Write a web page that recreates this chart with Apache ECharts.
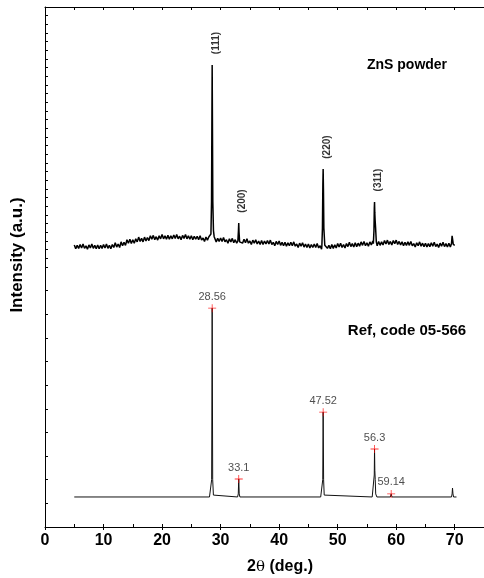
<!DOCTYPE html>
<html>
<head>
<meta charset="utf-8">
<script src="https://cdn.jsdelivr.net/npm/echarts@6/dist/echarts.min.js"></script>
<style>
html,body{margin:0;padding:0;background:#fff;}
#c{width:484px;height:578px;}
</style>
</head>
<body>
<div id="c"></div>
<script>
// ---------- DATA ----------
// x-axis tick labels
const xTicks = [0, 10, 20, 30, 40, 50, 60, 70];

// ZnS powder pattern (upper trace): noisy background sampled every 0.25 deg from 5 deg
const znsStart = 5, znsStep = 0.25;
const znsBackground = [
  25.5, 21, 25, 21.5,   26, 22, 26.5, 21.5,   24.5, 20.5, 25.5, 22,   26.5, 21.5, 25, 21,
  25.5, 21, 25, 21.5,   26, 22, 26.5, 21.5,   25, 21, 26, 22.5,       28, 23, 26.5, 22.5,
  29, 24.5, 28.5, 25,   31.5, 27.5, 32, 27,   31.5, 27.5, 32.5, 29,   34.5, 29.5, 33, 29,
  34.5, 30, 34, 30.5,   36, 32, 36.5, 31.5,   35, 31, 36, 32.5,       37.5, 32.5, 36, 32,
  36.5, 32, 36, 32.5,   37, 33, 37.5, 32.5,   35.5, 31.5, 36.5, 33,   37.5, 32.5, 36, 32,
  36, 31.5, 35.5, 32,   35.5, 31.5, 36, 31,   33.5, 29.5, 34.5, 31,   35, 30, 33.5, 29.5,
  33.5, 29, 33, 29.5,   33.5, 29.5, 34, 29,   31.5, 27.5, 32.5, 29,   33, 28, 31.5, 27.5,
  31.5, 27, 31, 27.5,   32, 28, 32.5, 27.5,   30, 26, 31, 27.5,       31.5, 26.5, 30, 26,
  30.5, 26, 30, 26.5,   30.5, 26.5, 31, 26,   28.5, 24.5, 29.5, 26,   30, 25, 28.5, 24.5,
  28.5, 24, 28, 24.5,   28.5, 24.5, 29, 24,   26.5, 22.5, 27.5, 24,   28, 23, 26.5, 22.5,
  26.5, 22, 26, 22.5,   26.5, 22.5, 27, 22,   24.5, 20.5, 25.5, 22,   26.5, 21.5, 25, 21,
  26, 21.5, 25.5, 22,   27, 23, 27.5, 22.5,   26, 22, 27, 23.5,       28.5, 23.5, 27, 23,
  28, 23.5, 27.5, 24,   29, 25, 29.5, 24.5,   28, 24, 29, 25.5,       30, 25, 28.5, 24.5,
  29.5, 25, 29, 25.5,   30.5, 26.5, 31, 26,   29.5, 25.5, 30.5, 27,   31, 26, 29.5, 25.5,
  29, 24.5, 28.5, 25,   29, 25, 29.5, 24.5,   27, 23, 28, 24.5,       29, 24, 27.5, 23.5,
  27.5, 23, 27, 23.5,   28, 24, 28.5, 23.5,   26.5, 22.5, 27.5, 24,   28.5, 23.5, 27, 23,
  27.5, 23, 27, 23.5,   25
];
// ZnS diffraction peaks, [2theta, intensity] profile points
const znsPeak111 = [[28.2,34],[28.35,38],[28.45,75],[28.52,180],[28.56,233],[28.6,175],[28.67,75],[28.78,42],[28.9,35]];
const znsPeak200 = [[32.95,30],[33.05,42],[33.1,50.8],[33.15,40],[33.25,29]];
const znsPeak220 = [[47.3,24],[47.4,45],[47.47,95],[47.52,113],[47.57,90],[47.64,45],[47.8,25]];
const znsPeak311 = [[56.1,27],[56.2,42],[56.26,68],[56.3,75],[56.34,63],[56.4,54],[56.48,45],[56.6,29]];
const znsPeakEnd = [[69.45,27],[69.55,36],[69.62,38],[69.68,30],[69.75,26]];
// hkl annotations (at peak tops)
const hklLabels = ['(111)', '(200)', '(220)', '(311)'];
const hklPeaks = [[28.56,233],[33.1,50.8],[47.52,113],[56.3,75]];

// Reference pattern (lower trace), code 05-566
const refLine = [
  [5,12.7],[28.1,12.7],[28.35,13.5],[28.47,20],[28.56,92.6],[28.65,20],[28.77,13.5],[29.0,12.7],
  [32.9,12.7],[33.02,14],[33.1,20.3],[33.18,14],[33.3,12.7],
  [47.1,12.7],[47.35,13.5],[47.45,20],[47.52,48.6],[47.6,20],[47.7,13.5],[47.95,12.7],
  [55.9,12.7],[56.15,13.5],[56.25,22],[56.3,33],[56.35,24],[56.42,20],[56.5,14],[56.7,12.7],
  [59.0,12.7],[59.14,14],[59.28,12.7],
  [69.45,12.7],[69.55,14],[69.62,16.5],[69.7,14],[69.8,12.7],[70.3,12.7]
];
const refPeaks = [[28.56,92.6],[33.1,20.3],[47.52,48.6],[56.3,33],[59.14,14]];
const refLabels = ['28.56', '33.1', '47.52', '56.3', '59.14'];

// ---------- BUILD ----------
const peakClusters = [znsPeak111, znsPeak200, znsPeak220, znsPeak311, znsPeakEnd];
let zns = [];
znsBackground.forEach((v, i) => {
  const x = znsStart + i * znsStep;
  const inPeak = peakClusters.some(p => x >= p[0][0] && x <= p[p.length - 1][0]);
  if (!inPeak) zns.push([x, v]);
});
peakClusters.forEach(p => { zns = zns.concat(p); });
zns.sort((a, b) => a[0] - b[0]);

const FONT = 'Liberation Sans, Arial, Helvetica, sans-serif';
const plusPath = 'path://M4.5,0H5.5V4.5H10V5.5H5.5V10H4.5V5.5H0V4.5H4.5Z';

const chart = echarts.init(document.getElementById('c'), null, {renderer: 'canvas'});
const axisLine = {show: true, onZero: false, lineStyle: {color: '#000', width: 1}};

chart.setOption({
  animation: false,
  backgroundColor: '#fff',
  textStyle: {fontFamily: FONT},
  grid: [
    {left: 45, right: -2, top: 7, height: 260},
    {left: 45, right: -2, top: 267, height: 260}
  ],
  xAxis: [
    { // top grid: top frame line with inward ticks
      gridIndex: 0, type: 'value', min: 0, max: 75, interval: 5, position: 'top',
      axisLine: axisLine, axisTick: {show: true, inside: true, length: 3, lineStyle: {color: '#000'}},
      axisLabel: {show: false}, splitLine: {show: false}
    },
    { // bottom grid: main x axis with labels
      gridIndex: 1, type: 'value', min: 0, max: 75, interval: 10, position: 'bottom',
      axisLine: axisLine,
      axisTick: {show: true, inside: false, length: 3, lineStyle: {color: '#000'}},
      axisLabel: {
        show: true, fontSize: 16, fontWeight: 'bold', color: '#000', margin: 6,
        showMaxLabel: false,
        formatter: v => (xTicks.indexOf(v) >= 0 ? String(v) : '')
      },
      splitLine: {show: false}
    },
    { // bottom grid: inward minor ticks every 5
      gridIndex: 1, type: 'value', min: 0, max: 75, interval: 5, position: 'bottom',
      axisLine: {show: false, onZero: false},
      axisTick: {show: true, inside: true, length: 3, lineStyle: {color: '#000'}},
      axisLabel: {show: false}, splitLine: {show: false}
    }
  ],
  yAxis: [
    {
      gridIndex: 0, type: 'value', min: 0, max: 300, interval: 10,
      axisLine: axisLine, axisTick: {show: true, inside: true, length: 3, lineStyle: {color: '#000'}},
      axisLabel: {show: false}, splitLine: {show: false}
    },
    {
      gridIndex: 1, type: 'value', min: 0, max: 110, interval: 10,
      axisLine: axisLine, axisTick: {show: true, inside: true, length: 3, lineStyle: {color: '#000'}},
      axisLabel: {show: false}, splitLine: {show: false}
    }
  ],
  series: [
    {
      type: 'line', xAxisIndex: 0, yAxisIndex: 0, data: zns, showSymbol: false, symbol: 'none',
      lineStyle: {color: '#000', width: 1.5}, z: 3
    },
    {
      type: 'scatter', xAxisIndex: 0, yAxisIndex: 0, data: hklPeaks,
      symbol: 'circle', symbolSize: 1, itemStyle: {color: 'rgba(0,0,0,0)'},
      label: {
        show: true, position: 'inside', rotate: 90, offset: [22, 4],
        fontSize: 10, fontWeight: 'bold', color: '#000', fontFamily: FONT,
        formatter: p => hklLabels[p.dataIndex]
      }, z: 4
    },
    {
      type: 'line', xAxisIndex: 1, yAxisIndex: 1, data: refLine, showSymbol: false, symbol: 'none',
      lineStyle: {color: '#111', width: 1}, z: 3
    },
    {
      type: 'scatter', xAxisIndex: 1, yAxisIndex: 1, data: refPeaks,
      symbol: plusPath, symbolSize: 8, itemStyle: {color: '#ff0000'},
      label: {
        show: true, position: 'top', distance: 2,
        fontSize: 11, color: '#222', fontFamily: FONT,
        formatter: p => refLabels[p.dataIndex]
      }, z: 5
    }
  ],
  graphic: [
    {
      type: 'text', x: 17, y: 255, rotation: Math.PI / 2,
      style: {text: 'Intensity (a.u.)', font: 'bold 17px ' + FONT, fill: '#000', align: 'center', verticalAlign: 'middle'}
    },
    {
      type: 'text', x: 280, y: 567,
      style: {
        text: '2{t|θ} (deg.)', fill: '#000', align: 'center', verticalAlign: 'middle',
        font: 'bold 16px ' + FONT,
        rich: {t: {fontFamily: 'DejaVu Serif, Liberation Serif, serif', fontSize: 15, fontWeight: 'normal', fill: '#000'}}
      }
    },
    {
      type: 'text', x: 407, y: 65,
      style: {text: 'ZnS powder', font: 'bold 14px ' + FONT, fill: '#000', align: 'center', verticalAlign: 'middle'}
    },
    {
      type: 'text', x: 407, y: 331,
      style: {text: 'Ref, code 05-566', font: 'bold 15px ' + FONT, fill: '#000', align: 'center', verticalAlign: 'middle'}
    }
  ]
});
</script>
</body>
</html>
